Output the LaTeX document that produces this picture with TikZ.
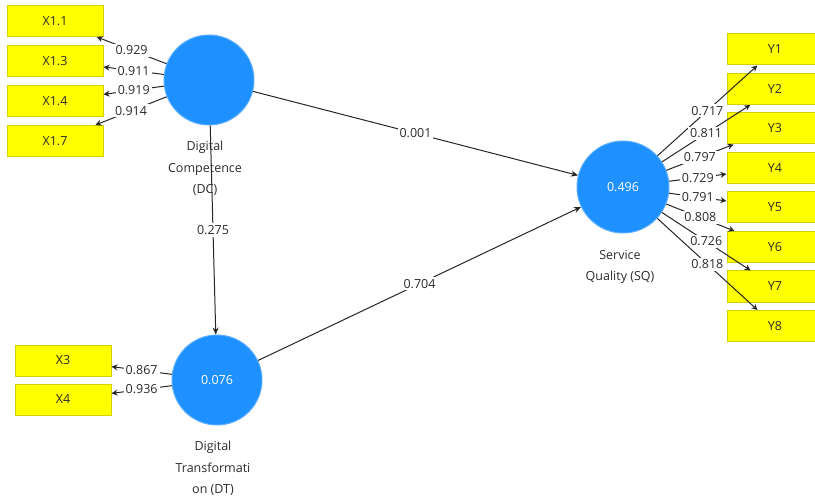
\documentclass[tikz,border=0pt]{standalone}
\usepackage{fontspec}
\setmainfont{Open Sans}
\usetikzlibrary{arrows.meta, positioning}
\definecolor{LatentBlue}{HTML}{1E90FF}
\definecolor{LatentEdge}{HTML}{5AAEFF}
\definecolor{IndYellow}{HTML}{FFFF00}
\definecolor{IndEdge}{HTML}{D2D200}
\definecolor{TextGrey}{HTML}{2B2B2B}
\tikzset{
  lv/.style={circle, fill=LatentBlue, draw=LatentEdge, line width=1pt,
    minimum size=90pt, inner sep=0pt, text=white,
    font=\fontsize{12.5}{14}\selectfont},
  ibox/.style={draw=IndEdge, fill=IndYellow, line width=1pt,
    minimum width=96pt, minimum height=31pt, inner sep=0pt,
    font=\fontsize{12.5}{14}\selectfont, text=TextGrey},
  lvname/.style={align=center, font=\fontsize{12.5}{21.5}\selectfont, text=TextGrey},
  coef/.style={fill=white, inner sep=2pt, font=\fontsize{12.5}{14}\selectfont, text=TextGrey},
  inner/.style={-{Stealth[length=7pt, width=6pt]}, line width=1pt, draw=black!85},
  outer/.style={-{Stealth[length=6pt, width=6pt]}, line width=1pt, draw=black!85},
}

\begin{document}
\begin{tikzpicture}[x=1pt, y=-1pt, node distance=8pt]
    \useasboundingbox (0,0) rectangle (815,500);
    \clip (0,0) rectangle (815,500);

    % latent variables
    \node[lv] (dc) at (209,80) {};
    \node[lv] (dt) at (217,380) {0.076};
    \node[lv, minimum size=92pt] (sq) at (623,187) {0.496};
    \node[lvname, below=12pt of dc, xshift=-4pt] (dcname) {Digital\\Competence\\(DC)};
    \node[lvname, below=12pt of dt, xshift=-4pt] (dtname) {Digital\\Transformati\\on (DT)};
    \node[lvname, below=13pt of sq, xshift=-3pt] (sqname) {Service\\Quality (SQ)};

    % indicators of DC and DT
    \node[ibox] (x11) at (55,21) {X1.1};
    \node[ibox, below=of x11] (x13) {X1.3};
    \node[ibox, below=of x13] (x14) {X1.4};
    \node[ibox, below=of x14] (x17) {X1.7};
    \node[ibox] (x3) at (63,360.5) {X3};
    \node[ibox, below=7pt of x3] (x4) {X4};

    % indicators of SQ
    \node[ibox] (y1) at (775,49.5) {Y1};
    \node[ibox, below=7.5pt of y1] (y2) {Y2};
    \node[ibox, below=7.5pt of y2] (y3) {Y3};
    \node[ibox, below=7.5pt of y3] (y4) {Y4};
    \node[ibox, below=7.5pt of y4] (y5) {Y5};
    \node[ibox, below=7.5pt of y5] (y6) {Y6};
    \node[ibox, below=7.5pt of y6] (y7) {Y7};
    \node[ibox, below=7.5pt of y7] (y8) {Y8};

    % structural paths
    \draw[inner] (dc) -- node[coef]{0.001} (sq);
    \draw[inner] (dc) -- node[coef]{0.275} (dt);
    \draw[inner] (dt) -- node[coef]{0.704} (sq);

    % outer loadings
    \draw[outer] (dc) -- node[coef]{0.929} (x11);
    \draw[outer] (dc) -- node[coef]{0.911} (x13);
    \draw[outer] (dc) -- node[coef]{0.919} (x14);
    \draw[outer] (dc) -- node[coef]{0.914} (x17);
    \draw[outer] (dt) -- node[coef]{0.867} (x3);
    \draw[outer] (dt) -- node[coef]{0.936} (x4);
    \draw[outer] (sq) -- node[coef]{0.717} (y1);
    \draw[outer] (sq) -- node[coef]{0.811} (y2);
    \draw[outer] (sq) -- node[coef]{0.797} (y3);
    \draw[outer] (sq) -- node[coef]{0.729} (y4);
    \draw[outer] (sq) -- node[coef]{0.791} (y5);
    \draw[outer] (sq) -- node[coef]{0.808} (y6);
    \draw[outer] (sq) -- node[coef]{0.726} (y7);
    \draw[outer] (sq) -- node[coef]{0.818} (y8);
\end{tikzpicture}
\end{document}
